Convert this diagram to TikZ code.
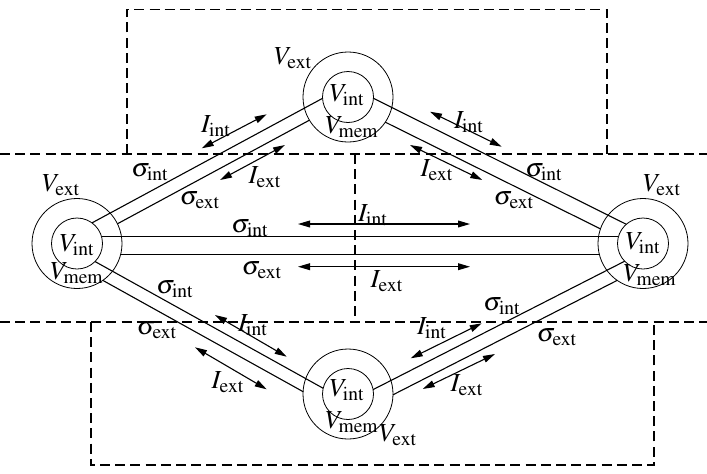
\documentclass[tikz,border=0pt]{standalone}
\usepackage{mathptmx}
\DeclareMathSizes{13}{13}{9.75}{7.5}
\usetikzlibrary{arrows.meta}
\tikzset{
  ring/.style={circle, draw, inner sep=0pt, outer sep=0pt, minimum size=45pt},
  core/.style={circle, draw, inner sep=0pt, outer sep=0pt, minimum size=25.5pt},
  lab/.style={inner sep=0pt, outer sep=0pt},
  wire/.style={line width=0.55pt},
  flow/.style={line width=0.55pt, {Triangle[length=6pt,width=3.4pt]}-{Triangle[length=6pt,width=3.4pt]}},
  zone/.style={line width=0.55pt, dash pattern=on 5pt off 2.6pt},
}
\begin{document}
\begin{tikzpicture}[x=0.5pt,y=-0.5pt,font=\fontsize{13}{15}\selectfont]
\useasboundingbox (0,0) rectangle (707,473);
% dashed zones
\draw[zone] (127,154) -- (127,9.3) -- (607,9.3) -- (607,154);
\draw[zone] (0,154) -- (707,154);
\draw[zone] (355,154) -- (355,322);
\draw[zone] (0,322) -- (707,322);
\draw[zone] (91,322) -- (91,465) -- (654,465) -- (654,322);
% cells
\node[ring] (Lout) at (77,243.5) {};
\node[core] (Lin) at (77,243.5) {};
\node[ring] (Rout) at (643,243.5) {};
\node[core] (Rin) at (643,243.5) {};
\node[ring] (Tout) at (348,97) {};
\node[core] (Tin) at (348,97) {};
\node[ring] (Bout) at (348,394) {};
\node[core] (Bin) at (348,394) {};
% cables
\draw[wire] (Lin.54) -- (Tin.183);
\draw[wire] (Lout.26) -- (Tout.211);
\draw[wire] (Tin.-3) -- (Rin.131);
\draw[wire] (Tout.-34) -- (Rout.161);
\draw[wire] (Lin.-45) -- (Bin.167);
\draw[wire] (Lout.-55) -- (Bout.177);
\draw[wire] (Bin.10) -- (Rin.224);
\draw[wire] (Bout.-1) -- (Rout.235);
\draw[wire] (Lin.16) -- (Rin.164);
\draw[wire] (Lout.-14) -- (Rout.194);
% current arrows
\coordinate (h1a) at (298,224);   \coordinate (h1b) at (470,224);
\coordinate (h2a) at (298,266.7); \coordinate (h2b) at (470,266.7);
\coordinate (lt1a) at (201.7,148.3); \coordinate (lt1b) at (266.7,114.3);
\coordinate (lt2a) at (220,180);     \coordinate (lt2b) at (285,145);
\coordinate (tr1a) at (430,111.7);   \coordinate (tr1b) at (501.7,146.7);
\coordinate (tr2a) at (410,145);     \coordinate (tr2b) at (482.3,180);
\coordinate (lb1a) at (215,315);     \coordinate (lb1b) at (286.7,356.7);
\coordinate (lb2a) at (195,347.3);   \coordinate (lb2b) at (266.7,389.3);
\coordinate (br1a) at (410.7,358.3); \coordinate (br1b) at (481.7,323.3);
\coordinate (br2a) at (422.7,389);   \coordinate (br2b) at (495,354);
\draw[flow] (h1a) -- (h1b);
\draw[flow] (h2a) -- (h2b);
\draw[flow] (lt1a) -- (lt1b);
\draw[flow] (lt2a) -- (lt2b);
\draw[flow] (tr1a) -- (tr1b);
\draw[flow] (tr2a) -- (tr2b);
\draw[flow] (lb1a) -- (lb1b);
\draw[flow] (lb2a) -- (lb2b);
\draw[flow] (br1a) -- (br1b);
\draw[flow] (br2a) -- (br2b);
% cell labels
\node[lab] (lLe) at (61,185) {$V_{\mathrm{ext}}$};
\node[lab] (lLi) at (77,245) {$V_{\mathrm{int}}$};
\node[lab] (lLm) at (77,273) {$V_{\mathrm{mem}}$};
\node[lab] (lRe) at (662,185) {$V_{\mathrm{ext}}$};
\node[lab] (lRi) at (643,243) {$V_{\mathrm{int}}$};
\node[lab] (lRm) at (650,275) {$V_{\mathrm{mem}}$};
\node[lab] (lTe) at (293,58) {$V_{\mathrm{ext}}$};
\node[lab] (lTi) at (347,95) {$V_{\mathrm{int}}$};
\node[lab] (lTm) at (352,127) {$V_{\mathrm{mem}}$};
\node[lab] (lBi) at (347,390) {$V_{\mathrm{int}}$};
\node[lab] (lBm) at (352,422) {$V_{\mathrm{mem}}$};
\node[lab] (lBe) at (398,435) {$V_{\mathrm{ext}}$};
% cable labels
\node[lab] (hsi) at (250,228) {$\sigma_{\mathrm{int}}$};
\node[lab] (hii) at (373,215) {$I_{\mathrm{int}}$};
\node[lab] (hse) at (262,270) {$\sigma_{\mathrm{ext}}$};
\node[lab] (hie) at (387,281) {$I_{\mathrm{ext}}$};
\node[lab] (ltii) at (216,126) {$I_{\mathrm{int}}$};
\node[lab] (ltsi) at (150,172) {$\sigma_{\mathrm{int}}$};
\node[lab] (ltie) at (265,177) {$I_{\mathrm{ext}}$};
\node[lab] (ltse) at (200,200) {$\sigma_{\mathrm{ext}}$};
\node[lab] (trii) at (469,122) {$I_{\mathrm{int}}$};
\node[lab] (trie) at (437,170) {$I_{\mathrm{ext}}$};
\node[lab] (trsi) at (544,172) {$\sigma_{\mathrm{int}}$};
\node[lab] (trse) at (514,200) {$\sigma_{\mathrm{ext}}$};
\node[lab] (lbsi) at (175,289) {$\sigma_{\mathrm{int}}$};
\node[lab] (lbse) at (157,330) {$\sigma_{\mathrm{ext}}$};
\node[lab] (lbii) at (253,325) {$I_{\mathrm{int}}$};
\node[lab] (lbie) at (228,382) {$I_{\mathrm{ext}}$};
\node[lab] (brsi) at (502,306) {$\sigma_{\mathrm{int}}$};
\node[lab] (brse) at (557,337) {$\sigma_{\mathrm{ext}}$};
\node[lab] (brii) at (432,328) {$I_{\mathrm{int}}$};
\node[lab] (brie) at (467,385) {$I_{\mathrm{ext}}$};
\end{tikzpicture}
\end{document}
